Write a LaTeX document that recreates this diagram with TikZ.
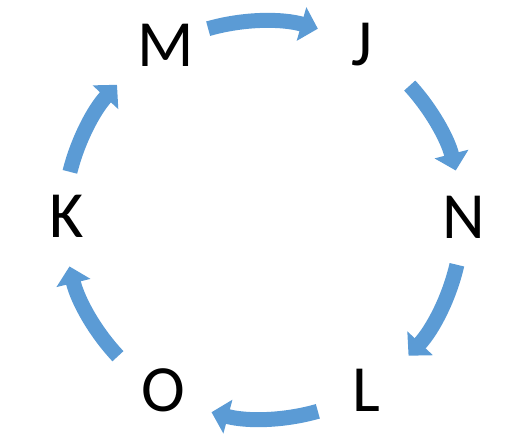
\documentclass[tikz,border=0pt]{standalone}
\usepackage{fontspec}
\setmainfont{Carlito}
\usetikzlibrary{arrows.meta,calc}
\definecolor{arrowblue}{HTML}{5B9BD5}
\tikzset{
  letter/.style={anchor=base, inner sep=0pt, font=\fontsize{66}{70}\selectfont},
  cyclearrow/.style={draw=arrowblue, line width=15pt, -{Triangle[width=34pt,length=17pt]}, arrowblue}
}
\begin{document}
\begin{tikzpicture}[x=1pt,y=1pt]
\useasboundingbox (0,0) rectangle (511,441);
\coordinate (c) at (263,221);
\node[letter] (M) at (165.5,374) {M};
\node[letter] (J) at (362,375) {J};
\node[letter] (N) at (464,202) {N};
\node[letter] (K) at (66.5,203) {K};
\node[letter] (L) at (366,29) {L};
\node[letter] (O) at (163.5,29) {O};
\foreach \s/\e in {106/74, 42.5/14.4, -13/-43, -74/-105, 223.2/193.5, 166/137.2}{
  \draw[cyclearrow] ($(c)+(\s:199)$) arc[start angle=\s, end angle=\e, radius=199];
}
\end{tikzpicture}
\end{document}
